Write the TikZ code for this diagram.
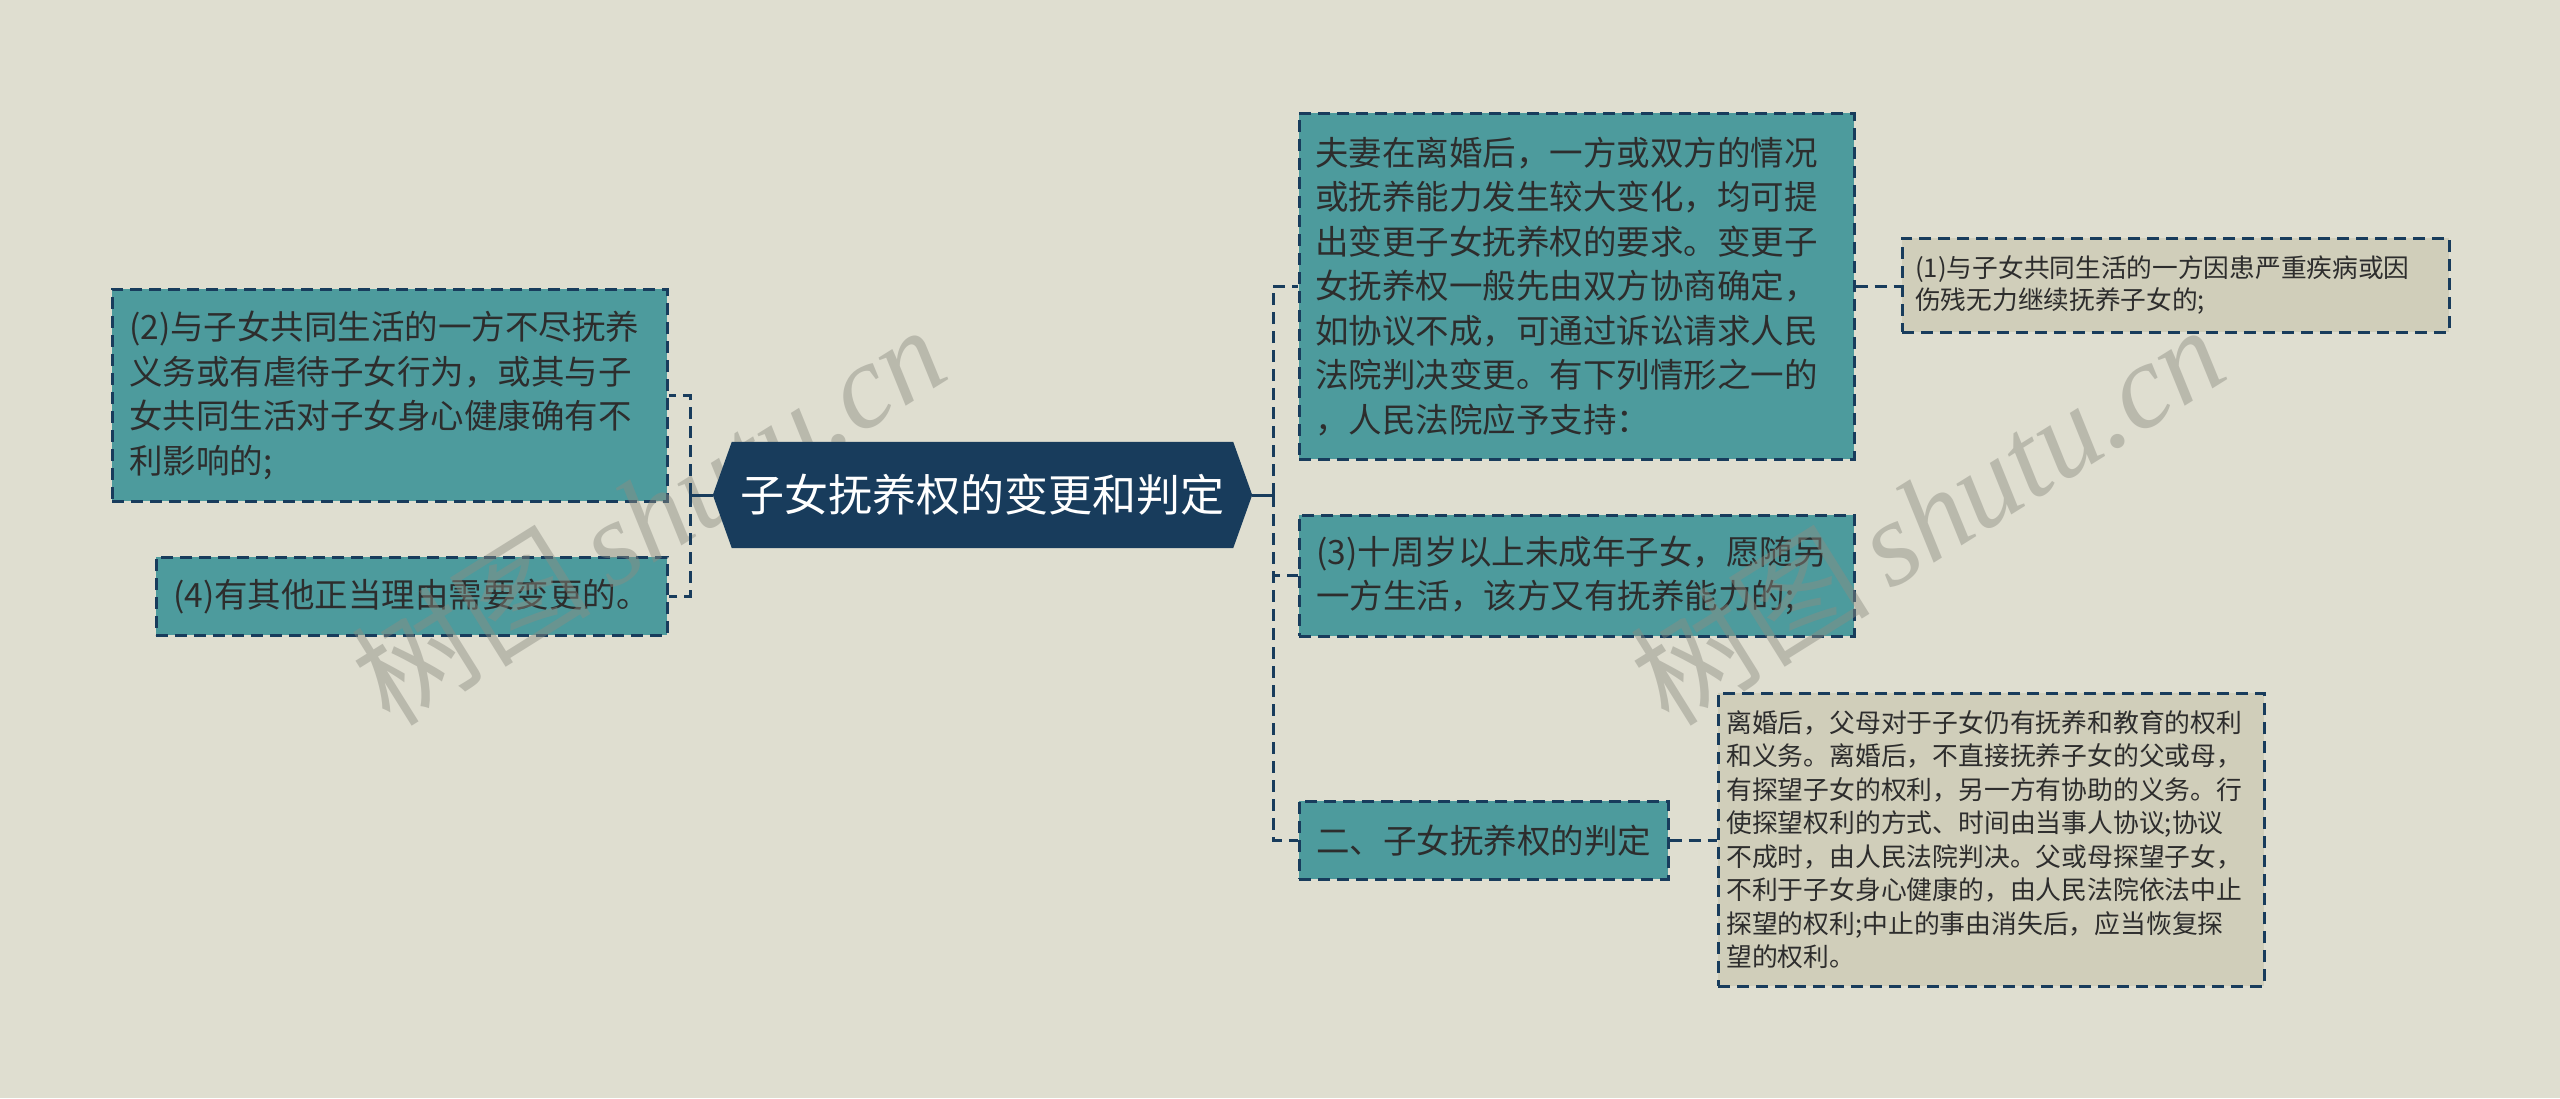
\documentclass[tikz,border=0pt]{standalone}
\usepackage{fontspec}
\setmainfont{Noto Sans CJK SC}
\newfontfamily\wmlatin{Liberation Serif}
\definecolor{bgc}{RGB}{223,222,208}
\definecolor{navy}{RGB}{24,60,92}
\definecolor{tealc}{RGB}{77,155,157}
\definecolor{beige}{RGB}{208,206,186}
\definecolor{txt}{RGB}{45,45,45}
\definecolor{wmc}{RGB}{140,140,130}
\begin{document}
\begin{tikzpicture}[x=1pt,y=-1pt,
  boxbase/.style={draw=navy, line width=2.5pt, dash pattern=on 12pt off 7pt,
    text=txt, align=left, anchor=north west, inner ysep=0pt},
  tealbox/.style={boxbase, fill=tealc, font=\fontsize{33.5}{44.5}\selectfont},
  beigebox/.style={boxbase, fill=beige},
  conn/.style={draw=navy, line width=3pt, dash pattern=on 12pt off 7pt},
  solidconn/.style={draw=navy, line width=3pt},
  wmark/.style={text=wmc, opacity=0.45, rotate=32}
]
\useasboundingbox (0,0) rectangle (2560,1098);
\fill[bgc] (0,0) rectangle (2560,1098);

% left boxes
\node[tealbox, minimum width=555pt, minimum height=212pt, text width=521pt, inner xsep=17pt] (A) at (111,288)
  {(2)与子女共同生活的一方不尽抚养\\义务或有虐待子女行为，或其与子\\女共同生活对子女身心健康确有不\\利影响的;};
\node[tealbox, minimum width=511pt, minimum height=78pt, text width=477pt, inner xsep=17pt] (B) at (155,556)
  {(4)有其他正当理由需要变更的。};

% right boxes
\node[tealbox, minimum width=555pt, minimum height=346pt, text width=523pt, inner xsep=16pt] (C) at (1298,112)
  {夫妻在离婚后，一方或双方的情况\\或抚养能力发生较大变化，均可提\\出变更子女抚养权的要求。变更子\\女抚养权一般先由双方协商确定，\\如协议不成，可通过诉讼请求人民\\法院判决变更。有下列情形之一的\\，人民法院应予支持：};
\node[tealbox, font=\fontsize{33.5}{44}\selectfont, minimum width=555pt, minimum height=121pt, text width=521pt, inner xsep=17pt] (E) at (1298,514)
  {(3)十周岁以上未成年子女，愿随另\\一方生活，该方又有抚养能力的;};
\node[tealbox, minimum width=369pt, minimum height=78pt, text width=335pt, inner xsep=17pt] (F) at (1298,800)
  {二、子女抚养权的判定};
\node[beigebox, font=\fontsize{25.7}{31.5}\selectfont, minimum width=547pt, minimum height=94pt, text width=521pt, inner xsep=13pt] (D) at (1901,237)
  {(1)与子女共同生活的一方因患严重疾病或因\\伤残无力继续抚养子女的;};
\node[beigebox, font=\fontsize{25.8}{33.5}\selectfont, minimum width=546pt, minimum height=293pt, text width=530pt, inner xsep=8pt] (G) at (1717,692)
  {离婚后，父母对于子女仍有抚养和教育的权利\\和义务。离婚后，不直接抚养子女的父或母，\\有探望子女的权利，另一方有协助的义务。行\\使探望权利的方式、时间由当事人协议;协议\\不成时，由人民法院判决。父或母探望子女，\\不利于子女身心健康的，由人民法院依法中止\\探望的权利;中止的事由消失后，应当恢复探\\望的权利。};

% watermarks
\node[wmark] (wm1) at (648,514) {\fontsize{120}{120}\selectfont 树图\,{\wmlatin\itshape shutu.cn}};
\node[wmark] (wm2) at (1927,514) {\fontsize{120}{120}\selectfont 树图\,{\wmlatin\itshape shutu.cn}};

% root
\node[minimum width=539pt, minimum height=106pt, inner sep=0pt] (root) at (982.5,495) {};
\fill[navy] (root.west) -- ([xshift=19pt]root.north west) -- ([xshift=-19pt]root.north east)
  -- (root.east) -- ([xshift=-19pt]root.south east) -- ([xshift=19pt]root.south west) -- cycle;
\node[text=white, font=\fontsize{44}{50}\selectfont] (roottext) at (root.center) {子女抚养权的变更和判定};

% connectors
\coordinate (lj) at (690,495);
\coordinate (rj) at (1273,495);
\draw[solidconn] (root.west) -- (lj);
\draw[solidconn] (root.east) -- (rj);
\draw[conn] (lj) |- (A.east);
\draw[conn] (lj) |- (B.east);
\draw[conn] (rj) |- (C.west);
\draw[conn] (rj) |- (E.west);
\draw[conn] (rj) |- (F.west);
\draw[conn] (C.east) -- (C.east -| D.west);
\draw[conn] (F.east) -- (F.east -| G.west);
\end{tikzpicture}
\end{document}
